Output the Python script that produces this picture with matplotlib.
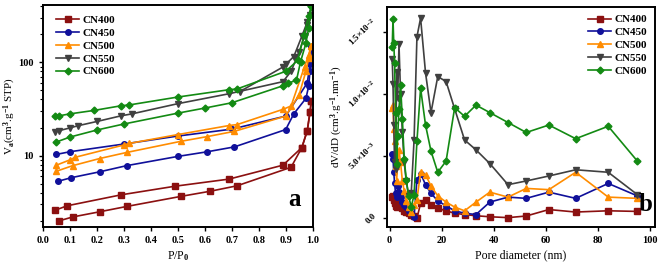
import matplotlib
matplotlib.use("Agg")
import matplotlib.pyplot as plt
from matplotlib.ticker import FixedLocator, NullFormatter, LogLocator

plt.rcParams["font.family"] = ["Liberation Serif", "DejaVu Serif"]
plt.rcParams["font.weight"] = "bold"
plt.rcParams["mathtext.fontset"] = "custom"
plt.rcParams["mathtext.rm"] = "Liberation Serif:bold"
plt.rcParams["mathtext.it"] = "Liberation Serif:bold"
plt.rcParams["mathtext.bf"] = "Liberation Serif:bold"

labels = ["CN400", "CN450", "CN500", "CN550", "CN600"]
colors = ["#8b1010", "#10109a", "#ff8c00", "#404040", "#138a13"]
markers = ["s", "o", "^", "v", "D"]

# ---- panel a: N2 isotherms (adsorption / desorption branches)
cn400_ads_p = [0.06, 0.11, 0.21, 0.31, 0.51, 0.62, 0.72, 0.92, 0.96, 0.98, 0.99, 0.995]
cn400_ads_v = [2.0, 2.2, 2.5, 2.85, 3.65, 4.15, 4.75, 7.5, 12.2, 18.5, 29, 38]
cn400_des_p = [0.995, 0.99, 0.98, 0.96, 0.89, 0.69, 0.49, 0.29, 0.09, 0.045]
cn400_des_v = [38, 29, 18.5, 12.2, 7.9, 5.6, 4.7, 3.8, 2.9, 2.6]

cn450_ads_p = [0.055, 0.105, 0.21, 0.31, 0.5, 0.61, 0.71, 0.9, 0.93, 0.975, 0.985, 0.99, 0.995]
cn450_ads_v = [5.3, 5.8, 6.7, 7.8, 9.8, 11.0, 12.4, 19.0, 28, 41, 55, 80, 145]
cn450_des_p = [0.995, 0.99, 0.98, 0.9, 0.7, 0.5, 0.3, 0.1, 0.05]
cn450_des_v = [145, 95, 60, 26.5, 19.2, 16.2, 13.3, 11.0, 10.3]

cn500_ads_p = [0.05, 0.11, 0.21, 0.31, 0.51, 0.61, 0.71, 0.9, 0.95, 0.975, 0.985, 0.995]
cn500_ads_v = [6.8, 7.8, 9.3, 10.8, 14.2, 16.0, 18.2, 26.5, 45, 80, 110, 150]
cn500_des_p = [0.995, 0.985, 0.97, 0.92, 0.89, 0.72, 0.69, 0.5, 0.32, 0.3, 0.12, 0.1, 0.05]
cn500_des_v = [150, 120, 90, 34, 31.3, 21.5, 21.0, 16.8, 13.5, 13.0, 9.6, 9.0, 7.9]

cn550_ads_p = [0.045, 0.06, 0.1, 0.13, 0.2, 0.29, 0.33, 0.5, 0.69, 0.89, 0.92, 0.95, 0.97, 0.98, 0.99, 0.995]
cn550_ads_v = [18.0, 18.5, 19.8, 20.9, 23.2, 26.7, 28.0, 36.0, 46.0, 62, 80, 130, 190, 250, 320, 390]
cn550_des_p = [0.995, 0.98, 0.96, 0.93, 0.9, 0.89, 0.73]
cn550_des_v = [390, 270, 190, 115, 95, 89, 48.5]

cn600_ads_p = [0.05, 0.1, 0.2, 0.3, 0.5, 0.6, 0.7, 0.89, 0.91, 0.94, 0.955, 0.975, 0.985, 0.995]
cn600_ads_v = [14.0, 15.8, 18.8, 21.8, 28.5, 32.3, 36.8, 56, 60, 64, 101, 160, 233, 400]
cn600_des_p = [0.995, 0.985, 0.968, 0.945, 0.9, 0.72, 0.69, 0.5, 0.32, 0.29, 0.19, 0.1, 0.06, 0.045]
cn600_des_v = [400, 310, 196, 105, 80, 51.8, 50.8, 42.4, 34.9, 34.2, 30.5, 28, 26.7, 26.3]

iso = [
    (cn400_ads_p, cn400_ads_v, cn400_des_p, cn400_des_v),
    (cn450_ads_p, cn450_ads_v, cn450_des_p, cn450_des_v),
    (cn500_ads_p, cn500_ads_v, cn500_des_p, cn500_des_v),
    (cn550_ads_p, cn550_ads_v, cn550_des_p, cn550_des_v),
    (cn600_ads_p, cn600_ads_v, cn600_des_p, cn600_des_v),
]

# ---- panel b: BJH pore size distribution
pore_d = [1.0, 1.3, 1.6, 1.9, 2.3, 2.7, 3.1, 3.6, 4.2, 4.9, 5.6, 6.4, 7.3, 8.3, 9.4, 10.5,
          11.9, 13.8, 15.9, 18.5, 21.7, 25.0, 28.8, 33.2, 38.5, 45.5, 52.5, 61.2, 71.5, 84.0, 95.2]
psd_cn400 = [0.0017, 0.0018, 0.0015, 0.0012, 0.0010, 0.0009, 0.0011, 0.0013, 0.0010, 0.0008, 0.0006,
             0.0005, 0.0004, 0.0003, 0.0002, 0.0000, 0.0012, 0.0015, 0.0011, 0.0008, 0.0006, 0.0004,
             0.0003, 0.0002, 0.00012, 0.00005, 0.00018, 0.0007, 0.0005, 0.0006, 0.00055]
psd_cn450 = [0.0052, 0.0048, 0.0037, 0.0028, 0.0020, 0.0017, 0.0026, 0.0021, 0.0017, 0.0013, 0.0011,
             0.0009, 0.0006, 0.0004, 0.0001, 0.0031, 0.0036, 0.0027, 0.0020, 0.0014, 0.0010, 0.0006,
             0.0004, 0.0003, 0.0013, 0.0017, 0.0016, 0.0021, 0.0016, 0.0028, 0.0018]
psd_cn500 = [0.0089, 0.0091, 0.0072, 0.0062, 0.0042, 0.0030, 0.0047, 0.0055, 0.0045, 0.0030, 0.0022,
             0.0014, 0.0009, 0.0005, 0.0011, 0.0015, 0.0037, 0.0035, 0.0026, 0.0018, 0.0013, 0.0009,
             0.0006, 0.0013, 0.0021, 0.0017, 0.0024, 0.0023, 0.0037, 0.0017, 0.0016]
psd_cn550 = [0.0128, 0.0108, 0.0075, 0.0045, 0.0040, 0.0118, 0.0097, 0.0140, 0.0100, 0.0069, 0.0045,
             0.0030, 0.0018, 0.0020, 0.0063, 0.0146, 0.0161, 0.0117, 0.0085, 0.0114, 0.0110, 0.0088,
             0.0063, 0.0055, 0.0044, 0.0027, 0.0030, 0.0034, 0.0039, 0.0037, 0.0019]
psd_cn600 = [0.0138, 0.0160, 0.0141, 0.0125, 0.0085, 0.0044, 0.0066, 0.0088, 0.0107, 0.0080, 0.0048,
             0.0031, 0.0018, 0.0009, 0.0019, 0.0062, 0.01046, 0.0075, 0.0054, 0.0037, 0.0046, 0.0089,
             0.0082, 0.0091, 0.0085, 0.0077, 0.0069, 0.0075, 0.0064, 0.0074, 0.0046]
psd = [psd_cn400, psd_cn450, psd_cn500, psd_cn550, psd_cn600]

fig = plt.figure(figsize=(6.61, 2.67), dpi=100)
ax_a = fig.add_axes([0.065, 0.15, 0.408, 0.831])
ax_b = fig.add_axes([0.5855, 0.15, 0.4055, 0.824])

for (ap, av, dp, dv), lab, c, m in zip(iso, labels, colors, markers):
    ms = 3.5 if m == "D" else 4
    ax_a.plot(ap, av, color=c, marker=m, ms=ms, lw=1.2, label=lab)
    ax_a.plot(dp, dv, color=c, marker=m, ms=ms, lw=1.2)

ax_a.set_yscale("log")
ax_a.set_xlim(0, 1.0)
ax_a.set_ylim(1.72, 410)
ax_a.set_xticks([i / 10 for i in range(11)])
ax_a.set_xticklabels([f"{i / 10:.1f}" for i in range(11)])
ax_a.yaxis.set_major_locator(FixedLocator([10, 100]))
ax_a.set_yticklabels(["10", "100"])
ax_a.yaxis.set_minor_locator(LogLocator(base=10, subs=range(2, 10)))
ax_a.yaxis.set_minor_formatter(NullFormatter())
ax_a.set_xlabel("P/P$_0$", fontsize=8.5, labelpad=3)
ax_a.set_ylabel("V$_a$(cm$^3$.g$^{-1}$ STP)", fontsize=8, labelpad=0)
ax_a.text(0.955, 0.07, "a", transform=ax_a.transAxes, fontsize=18,
          fontweight="bold", ha="right", va="bottom")
ax_a.legend(loc="upper left", frameon=False, fontsize=8, handlelength=2.1,
            labelspacing=0.28, handletextpad=0.3, borderaxespad=0.3,
            bbox_to_anchor=(0.02, 0.99))

for vals, lab, c, m in zip(psd, labels, colors, markers):
    ms = 3.5 if m == "D" else 4
    ax_b.plot(pore_d, vals, color=c, marker=m, ms=ms, lw=1.2, label=lab)

ax_b.set_xlim(-1, 102)
ax_b.set_ylim(-0.0007, 0.017)
ax_b.set_xticks([0, 20, 40, 60, 80, 100])
ax_b.set_yticks([0, 0.005, 0.010, 0.015])
ax_b.set_yticklabels(["0.0", "5.0×10$^{-3}$", "1.0×10$^{-2}$", "1.5×10$^{-2}$"],
                     rotation=45, fontsize=6.5, va="center")
ax_b.set_xlabel("Pore diameter (nm)", fontsize=8.5, labelpad=3)
ax_b.set_ylabel("dV/dD (cm$^3$.g$^{-1}$.nm$^{-1}$)", fontsize=8, labelpad=1)
ax_b.text(0.99, 0.05, "b", transform=ax_b.transAxes, fontsize=18,
          fontweight="bold", ha="right", va="bottom")
ax_b.legend(loc="upper right", frameon=False, fontsize=8, handlelength=2.1,
            labelspacing=0.28, handletextpad=0.3, borderaxespad=0.3)

for ax in (ax_a, ax_b):
    ax.tick_params(axis="both", labelsize=7.5, width=1.0, length=3)
    ax.tick_params(axis="y", which="minor", length=2, width=0.8)
    for sp in ax.spines.values():
        sp.set_linewidth(1.4)
ax_b.tick_params(axis="y", labelsize=6.5)

fig.savefig("out.png", dpi=100)
